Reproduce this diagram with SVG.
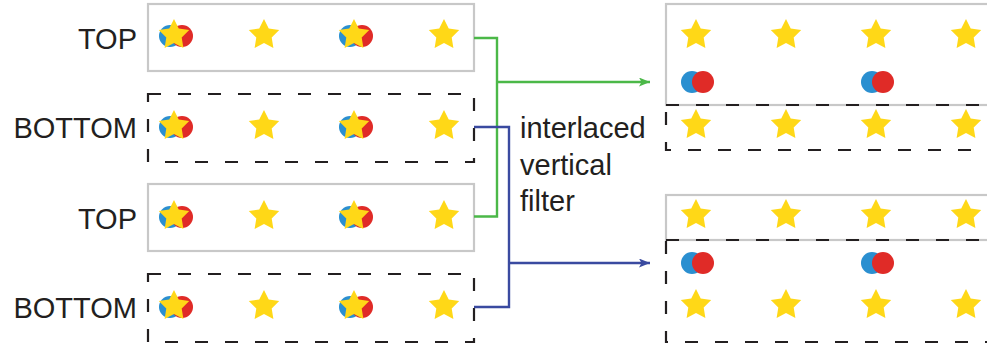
<svg xmlns="http://www.w3.org/2000/svg" xmlns:xlink="http://www.w3.org/1999/xlink" width="987" height="343" viewBox="0 0 987 343">
<style>
.lbl{font-family:"Liberation Sans",Arial,sans-serif;font-size:29px;fill:#231f20}
.solid{fill:none;stroke:#c8c8c8;stroke-width:2.2}
.dash{fill:none;stroke:#231f20;stroke-width:2.2;stroke-dasharray:13 17}
.star{fill:#ffd817}
.blue{fill:#2a8fd0}
.red{fill:#e02b27}
.green{fill:none;stroke:#4bb848;stroke-width:2.4}
.navy{fill:none;stroke:#3a4aa0;stroke-width:2.4}
</style>
<defs>
<polygon id="st" class="star" points="0,-16 4.76,-6.55 15.22,-4.94 7.7,2.5 9.4,12.94 0,8.1 -9.4,12.94 -7.7,2.5 -15.22,-4.94 -4.76,-6.55"/>
<g id="pairL"><circle class="blue" cx="-4" cy="1" r="11"/><circle class="red" cx="8" cy="1" r="11"/><use xlink:href="#st"/></g>
<g id="pairR"><circle class="blue" cx="-4" cy="0" r="11"/><circle class="red" cx="7" cy="0" r="11"/></g>
<g id="rowL"><use xlink:href="#pairL" x="174"/><use xlink:href="#st" x="264"/><use xlink:href="#pairL" x="354"/><use xlink:href="#st" x="444"/></g>
<g id="starsR"><use xlink:href="#st" x="696"/><use xlink:href="#st" x="786"/><use xlink:href="#st" x="876"/><use xlink:href="#st" x="966"/></g>
<g id="circR"><use xlink:href="#pairR" x="696"/><use xlink:href="#pairR" x="876"/></g>
<marker id="ahG" markerUnits="userSpaceOnUse" markerWidth="12" markerHeight="10" refX="11" refY="4.5" orient="auto"><path d="M0,0 L11,4.5 L0,9 L2.5,4.5 z" fill="#4bb848"/></marker>
<marker id="ahB" markerUnits="userSpaceOnUse" markerWidth="12" markerHeight="10" refX="11" refY="4.5" orient="auto"><path d="M0,0 L11,4.5 L0,9 L2.5,4.5 z" fill="#3a4aa0"/></marker>
</defs>
<g id="top1">
<rect class="solid" x="148" y="4" width="326" height="67"/>
<text class="lbl" x="137" y="49" text-anchor="end">TOP</text>
<use xlink:href="#rowL" y="35"/>
</g>
<g id="bottom1">
<rect class="dash" x="148" y="94" width="326" height="68"/>
<text class="lbl" x="137" y="138" text-anchor="end">BOTTOM</text>
<use xlink:href="#rowL" y="126"/>
</g>
<g id="top2">
<rect class="solid" x="148" y="184" width="326" height="67"/>
<text class="lbl" x="137" y="229" text-anchor="end">TOP</text>
<use xlink:href="#rowL" y="216"/>
</g>
<g id="bottom2">
<rect class="dash" x="148" y="274" width="326" height="68"/>
<text class="lbl" x="137" y="318" text-anchor="end">BOTTOM</text>
<use xlink:href="#rowL" y="306"/>
</g>
<g id="filterlabel">
<text class="lbl" x="520" y="138">interlaced</text>
<text class="lbl" x="520" y="175">vertical</text>
<text class="lbl" x="520" y="211">filter</text>
</g>
<g id="connectors">
<path class="green" d="M474,38 H497 V216.5 H474"/>
<path class="green" d="M497,82 H650" marker-end="url(#ahG)"/>
<path class="navy" d="M474,127 H509 V307 H474"/>
<path class="navy" d="M509,263 H650" marker-end="url(#ahB)"/>
</g>
<g id="outTop">
<rect class="solid" x="666" y="4" width="340" height="101"/>
<rect class="dash" x="666" y="105" width="340" height="45"/>
<use xlink:href="#starsR" y="35"/>
<use xlink:href="#circR" y="82"/>
<use xlink:href="#starsR" y="125"/>
</g>
<g id="outBottom">
<rect class="solid" x="666" y="195" width="340" height="45"/>
<rect class="dash" x="666" y="240" width="340" height="102"/>
<use xlink:href="#starsR" y="215"/>
<use xlink:href="#circR" y="263"/>
<use xlink:href="#starsR" y="305"/>
</g>
</svg>
